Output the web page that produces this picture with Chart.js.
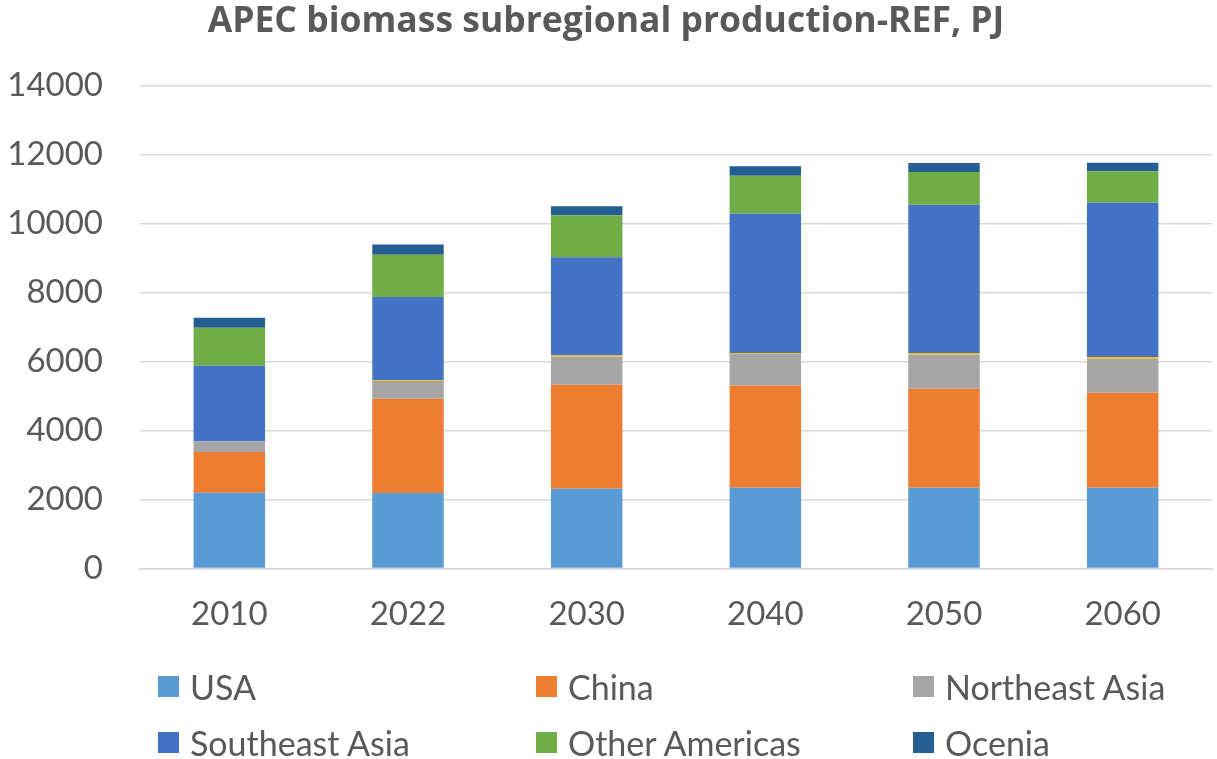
<!DOCTYPE html>
<html lang="en">
<head>
    <meta charset="UTF-8">
    <title>APEC biomass subregional production-REF, PJ</title>
    <script src="https://cdn.jsdelivr.net/npm/chart.js"></script>
    <style>
        body { margin: 0; background: #fff; font-family: Lato, "Open Sans", sans-serif; }
        .wrap { position: relative; width: 1217px; height: 759px; }
        #chartBox { position: absolute; left: 0; top: 0; width: 1217px; height: 660px; }
        #legend { position: absolute; left: 0; top: 0; width: 1217px; height: 759px; pointer-events: none; }
        .item { position: absolute; display: flex; align-items: center; color: #595959; font-size: 34px; white-space: nowrap; }
        .item span.box { display: inline-block; width: 21px; height: 21px; margin-right: 11px; }
    </style>
</head>
<body>
<div class="wrap">
    <div id="chartBox"><canvas id="biomassChart"></canvas></div>
    <div id="legend"></div>
</div>

<script>
    const years = ['2010', '2022', '2030', '2040', '2050', '2060'];

    const usa = [2195, 2190, 2311, 2340, 2340, 2340];
    const china = [1178, 2730, 3016, 2967, 2871, 2755];
    const northeastAsia = [310, 513, 812, 908, 985, 985];
    const other = [0, 20, 38, 29, 48, 48];
    const southeastAsia = [2195, 2417, 2842, 4042, 4303, 4477];
    const otherAmericas = [1102, 1228, 1218, 1102, 946, 908];
    const ocenia = [290, 291, 261, 270, 261, 251];

    const yTicks = [0, 2000, 4000, 6000, 8000, 10000, 12000, 14000];

    const textColor = '#595959';
    const gridColor = '#d9d9d9';

    const datasets = [
        { label: 'USA', data: usa, backgroundColor: '#5B9BD5' },
        { label: 'China', data: china, backgroundColor: '#ED7D31' },
        { label: 'Northeast Asia', data: northeastAsia, backgroundColor: '#A5A5A5' },
        { label: 'Other', data: other, backgroundColor: '#FFC000', hideInLegend: true },
        { label: 'Southeast Asia', data: southeastAsia, backgroundColor: '#4472C4' },
        { label: 'Other Americas', data: otherAmericas, backgroundColor: '#70AD47' },
        { label: 'Ocenia', data: ocenia, backgroundColor: '#255E91' }
    ].map(d => Object.assign(d, { barPercentage: 0.4, categoryPercentage: 1.0, borderWidth: 0 }));

    const ctx = document.getElementById('biomassChart').getContext('2d');
    const chart = new Chart(ctx, {
        type: 'bar',
        data: { labels: years, datasets: datasets },
        options: {
            responsive: true,
            maintainAspectRatio: false,
            animation: false,
            layout: { padding: { left: 0, right: 5, top: 0, bottom: 8 } },
            plugins: {
                legend: { display: false },
                tooltip: { enabled: false },
                title: {
                    display: true,
                    text: 'APEC biomass subregional production-REF, PJ',
                    color: textColor,
                    font: { family: 'Open Sans', size: 35.5, weight: 'bold' },
                    padding: { top: 1, bottom: 42 }
                }
            },
            scales: {
                x: {
                    stacked: true,
                    grid: { display: false },
                    border: { color: gridColor, width: 1.5 },
                    ticks: { color: textColor, font: { family: 'Lato', size: 33 }, padding: 18 }
                },
                y: {
                    stacked: true,
                    min: 0,
                    max: 14000,
                    afterBuildTicks: scale => { scale.ticks = yTicks.map(v => ({ value: v })); },
                    afterFit: scale => { scale.width = 140; },
                    grid: { color: gridColor, lineWidth: 1.5, drawTicks: false },
                    border: { display: false },
                    ticks: {
                        color: textColor,
                        font: { family: 'Lato', size: 33 },
                        padding: 37,
                        callback: v => String(v)
                    }
                }
            }
        }
    });

    // legend laid out in three columns like the original
    const legendBox = document.getElementById('legend');
    const cols = [158, 536, 913];
    const rows = [686, 742];
    datasets.filter(d => !d.hideInLegend).forEach((d, i) => {
        const el = document.createElement('div');
        el.className = 'item';
        el.style.left = cols[i % 3] + 'px';
        el.style.top = (rows[Math.floor(i / 3)] - 22) + 'px';
        el.style.height = '44px';
        el.innerHTML = '<span class="box" style="background:' + d.backgroundColor + '"></span>' + d.label;
        legendBox.appendChild(el);
    });
</script>
</body>
</html>
